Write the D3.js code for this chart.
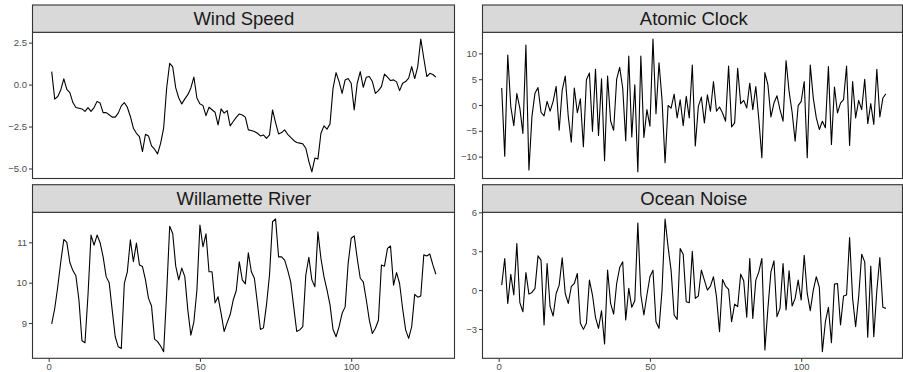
<!DOCTYPE html>
<html>
<head>
<meta charset="utf-8">
<script src="https://cdn.jsdelivr.net/npm/d3@7"></script>
<style>
  html, body { margin: 0; padding: 0; background: #ffffff; }
  svg { display: block; font-family: "Liberation Sans", Arial, Helvetica, sans-serif; }
</style>
</head>
<body>
<svg id="chart" width="903" height="372"></svg>
<script>
// ---- data ----
const panelTitles = ["Wind Speed", "Atomic Clock", "Willamette River", "Ocean Noise"];
const xTicks = [0, 50, 100];

const windSpeed = [0.77, -0.87, -0.71, -0.32, 0.34, -0.28, -0.48, -1.07, -1.37, -1.41,
  -1.45, -1.6, -1.37, -1.6, -1.37, -1.0, -1.1, -1.67, -1.67, -1.8,
  -1.94, -1.94, -1.7, -1.27, -1.07, -1.35, -1.9, -2.6, -2.9, -3.1,
  -3.99, -2.96, -3.06, -3.65, -3.85, -4.13, -3.5, -2.6, -0.2, 1.27,
  1.05, -0.2, -0.8, -1.15, -0.85, -0.6, -0.2, 0.45, -0.8, -1.15,
  -1.25, -1.85, -1.35, -1.5, -1.65, -2.4, -1.45, -1.7, -1.55, -2.46,
  -2.2, -1.95, -1.75,
  -1.81, -1.94, -2.7, -2.74, -2.8, -2.9, -3.06, -3.0, -3.2, -3.0,
  -1.51, -2.26, -2.94, -2.86, -2.7, -2.96, -3.15, -3.33, -3.45, -3.49,
  -3.53, -3.79, -4.58, -5.2, -4.38, -4.44, -2.9, -2.46, -2.66, -2.34,
  -0.22, 0.71, 0.18, -0.52, 0.28, 0.36, 0.08, -1.51, 0.08, 0.77,
  -0.16, 0.44, 0.48, 0.18, -0.52, -0.36, -0.12, 0.63, 0.44, 0.24,
  0.28, 0.16, -0.36, 0.08, 0.18, 0.38, 1.07, 0.36, 1.07, 2.72,
  1.57, 0.48, 0.67, 0.6, 0.44];

const atomicClock = [3.3, -9.9, 9.7, -0.3, -4.0, 2.2, -0.6, -5.5, 11.6, -12.6,
  -2.2, 2.3, 3.4, -1.4, -2.1, 0.7, -1.2, 0.7, 3.6, -4.9,
  2.9, 5.6, -2.2, -7.2, 3.3, -1.5, 1.2, -8.1, 4.9, 6.2,
  -5.1, 6.9, -5.9, 5.1, -10.8, 5.6, -3.1, -4.9, 5.0, 7.3,
  3.3, -6.9, 9.5, -6.2, 3.9, -12.95, 9.5, -6.3, -0.9, -4.1,
  12.8, -1.7, 8.2, 1.0, -11.2, -0.1, -0.6, 2.1, -2.5, 1.0,
  -4.0, 1.67, -2.5, 7.76, -7.95, -0.26, 1.54, -3.46, 1.99, -1.22,
  4.55, -1.22, -0.38, -1.54, -3.14, 7.56, -4.23, -3.46, 7.12, 0.26,
  0.9, -0.58, 4.23, -0.9, 3.59, -2.82, -10.2, 6.28, 3.91, -2.31,
  0.38, 1.79, -0.9, -3.14, 8.59, 2.63, -1.41, -6.99, -0.13, 0.71,
  4.55, -10.2, 7.76, 1.35, -2.5, -4.74, -3.14, -4.42, 7.44, -7.63,
  3.46, -1.54, 0.38, 1.03, 7.56, -7.82, 4.55, -2.5, 0.9, -0.9,
  5.0, -3.59, 0.26, -3.78, 6.92, -2.31, 1.35, 2.18];

const willametteRiver = [8.98, 9.36, 9.9, 10.52, 11.07, 11.0, 10.5, 10.3, 10.17, 9.57,
  8.56, 8.51, 9.7, 11.18, 10.93, 11.18, 10.99, 10.64, 10.15, 10.0,
  9.32, 8.66, 8.41, 8.37, 9.98, 10.27, 11.06, 10.52, 10.98, 10.44,
  10.4, 10.07, 9.61, 9.42, 8.6, 8.54, 8.43, 8.29, 9.74, 11.4,
  11.22, 10.41, 10.07, 10.36, 10.15, 9.32, 8.7, 9.03, 9.82, 11.43,
  10.89, 11.21, 10.27, 10.27, 9.5, 9.65, 9.24, 8.79, 9.01, 9.21,
  9.57, 9.8, 10.52,
  10.07, 9.97, 10.74, 10.27, 10.11, 9.49, 8.84, 8.88, 9.45, 10.19,
  11.51, 11.58, 10.64, 10.64, 10.56, 10.31, 10.02, 9.4, 8.79, 8.83,
  8.91, 10.19, 10.63, 10.07, 9.9, 11.26, 10.6, 10.15, 9.82, 9.45,
  8.84, 8.66, 8.91, 9.24, 9.4, 10.48, 11.1, 11.16, 10.6, 10.11,
  10.02, 9.57, 9.07, 8.74, 8.87, 9.07, 10.44, 10.41, 10.85, 10.91,
  9.94, 10.25, 9.98, 9.36, 8.83, 8.62, 8.91, 9.71, 9.64, 9.67,
  10.69, 10.66, 10.71, 10.44, 10.21];

const oceanNoise = [0.38, 2.44, -1.03, 1.21, -0.38, 3.59, -0.97, -1.67, 1.36, -0.31,
  -0.18, 0.13, 2.64, 2.31, -2.69, 2.05, -1.28, -2.0, -0.26, 0.38,
  2.49, -0.26, -1.03, 0.26, 0.51, 1.28, -2.56, -3.03, -2.56, 0.77,
  -0.38, -2.1, -2.95, -1.59, -4.15, 1.54, -1.03, -1.85, 0.51, 1.74,
  2.18, -2.31, 0.13, -1.33, -0.82, 5.18, -0.38, -1.92, -0.38, 1.03,
  1.54, -2.44, -2.95, 0.0, 5.49, 3.33, 1.5, -1.92, -2.26, 3.2,
  2.77, -0.9, -0.97, 3.0, -0.64, -0.46, 1.54, 0.77, 0.0, 0.31,
  1.03, -0.51, -3.21, 0.82, 0.31, 0.05, -2.44, -1.08, -1.28, 1.23,
  0.72, -2.1, 2.44, -2.18, 0.77, 1.41, 2.44, -4.62, -1.41, 1.41,
  2.26, -2.05, -1.41, 2.05, -1.54, 1.49, -1.23, -0.64, 0.77, -0.77,
  2.69, -0.26, -1.59, 0.0, 1.03, 0.21, -4.75, -2.44, -1.33, -4.05,
  0.46, 0.51, -2.69, -0.46, -0.38, 4.05, -0.64, -2.82, -0.51, 2.77,
  2.18, -3.64, 1.85, -3.59, -0.05, 2.51, -1.33, -1.41];

const windTicks = [-5, -2.5, 0, 2.5];
const atomicTicks = [-10, -5, 0, 5, 10];
const willametteTicks = [9, 10, 11];
const oceanTicks = [-3, 0, 3, 6];

// ---- layout ----
const svg = d3.select("#chart");
const colLeft = [32.5, 482.5];
const colRectW = [422, 420];
const xScaleW = 422.6;
const rows = [
  { stripTop: 5, stripBottom: 32.3, panelBottom: 178.5 },
  { stripTop: 184.7, stripBottom: 212.3, panelBottom: 358.3 }
];
const borderCol = "#333333";

const panels = [
  { title: panelTitles[0], values: windSpeed, ticks: windTicks, fmt: d3.format(".1f"), col: 0, row: 0 },
  { title: panelTitles[1], values: atomicClock, ticks: atomicTicks, fmt: d3.format("d"), col: 1, row: 0 },
  { title: panelTitles[2], values: willametteRiver, ticks: willametteTicks, fmt: d3.format("d"), col: 0, row: 1 },
  { title: panelTitles[3], values: oceanNoise, ticks: oceanTicks, fmt: d3.format("d"), col: 1, row: 1 }
];

panels.forEach(p => {
  const left = colLeft[p.col];
  const r = rows[p.row];
  const n = p.values.length;
  const xr = n - 1;
  const x = d3.scaleLinear()
    .domain([1 - 0.05 * xr, n + 0.05 * xr])
    .range([left, left + xScaleW]);
  const [mn, mx] = d3.extent(p.values);
  const yr = mx - mn;
  const y = d3.scaleLinear()
    .domain([mn - 0.05 * yr, mx + 0.05 * yr])
    .range([r.panelBottom, r.stripBottom]);

  const g = svg.append("g");

  g.append("rect")
    .attr("x", left).attr("y", r.stripBottom)
    .attr("width", colRectW[p.col]).attr("height", r.panelBottom - r.stripBottom)
    .attr("fill", "#ffffff");

  const line = d3.line()
    .x((d, i) => x(i + 1))
    .y(d => y(d));
  g.append("path")
    .datum(p.values)
    .attr("d", line)
    .attr("fill", "none")
    .attr("stroke", "#000000")
    .attr("stroke-width", 1.1)
    .attr("stroke-linejoin", "round");

  g.append("rect")
    .attr("x", left).attr("y", r.stripBottom)
    .attr("width", colRectW[p.col]).attr("height", r.panelBottom - r.stripBottom)
    .attr("fill", "none")
    .attr("stroke", borderCol)
    .attr("stroke-width", 1.1);

  g.append("rect")
    .attr("x", left).attr("y", r.stripTop)
    .attr("width", colRectW[p.col]).attr("height", r.stripBottom - r.stripTop)
    .attr("fill", "#D9D9D9")
    .attr("stroke", borderCol)
    .attr("stroke-width", 1.1);
  g.append("text")
    .attr("x", left + xScaleW / 2)
    .attr("y", (r.stripTop + r.stripBottom) / 2 + 6.6)
    .attr("text-anchor", "middle")
    .attr("font-size", 18.5)
    .attr("fill", "#1A1A1A")
    .text(p.title);

  const yAxis = d3.axisLeft(y)
    .tickValues(p.ticks)
    .tickSize(3.5)
    .tickPadding(2)
    .tickFormat(d => p.fmt(d).replace("-", "\u2212"));
  const ya = g.append("g")
    .attr("transform", `translate(${left},0)`)
    .call(yAxis);
  ya.select(".domain").remove();
  ya.selectAll(".tick line").attr("stroke", borderCol).attr("stroke-width", 1);
  ya.selectAll(".tick text")
    .attr("fill", "#4D4D4D")
    .attr("font-size", 9.5)
    .attr("font-family", "Liberation Sans, Arial, sans-serif");

  if (p.row === 1) {
    const xAxis = d3.axisBottom(x)
      .tickValues(xTicks)
      .tickSize(3.5)
      .tickPadding(1.2)
      .tickFormat(d3.format("d"));
    const xa = g.append("g")
      .attr("transform", `translate(0,${r.panelBottom})`)
      .call(xAxis);
    xa.select(".domain").remove();
    xa.selectAll(".tick line").attr("stroke", borderCol).attr("stroke-width", 1);
    xa.selectAll(".tick text")
      .attr("fill", "#4D4D4D")
      .attr("font-size", 9.5)
      .attr("font-family", "Liberation Sans, Arial, sans-serif");
  }
});
</script>
</body>
</html>
